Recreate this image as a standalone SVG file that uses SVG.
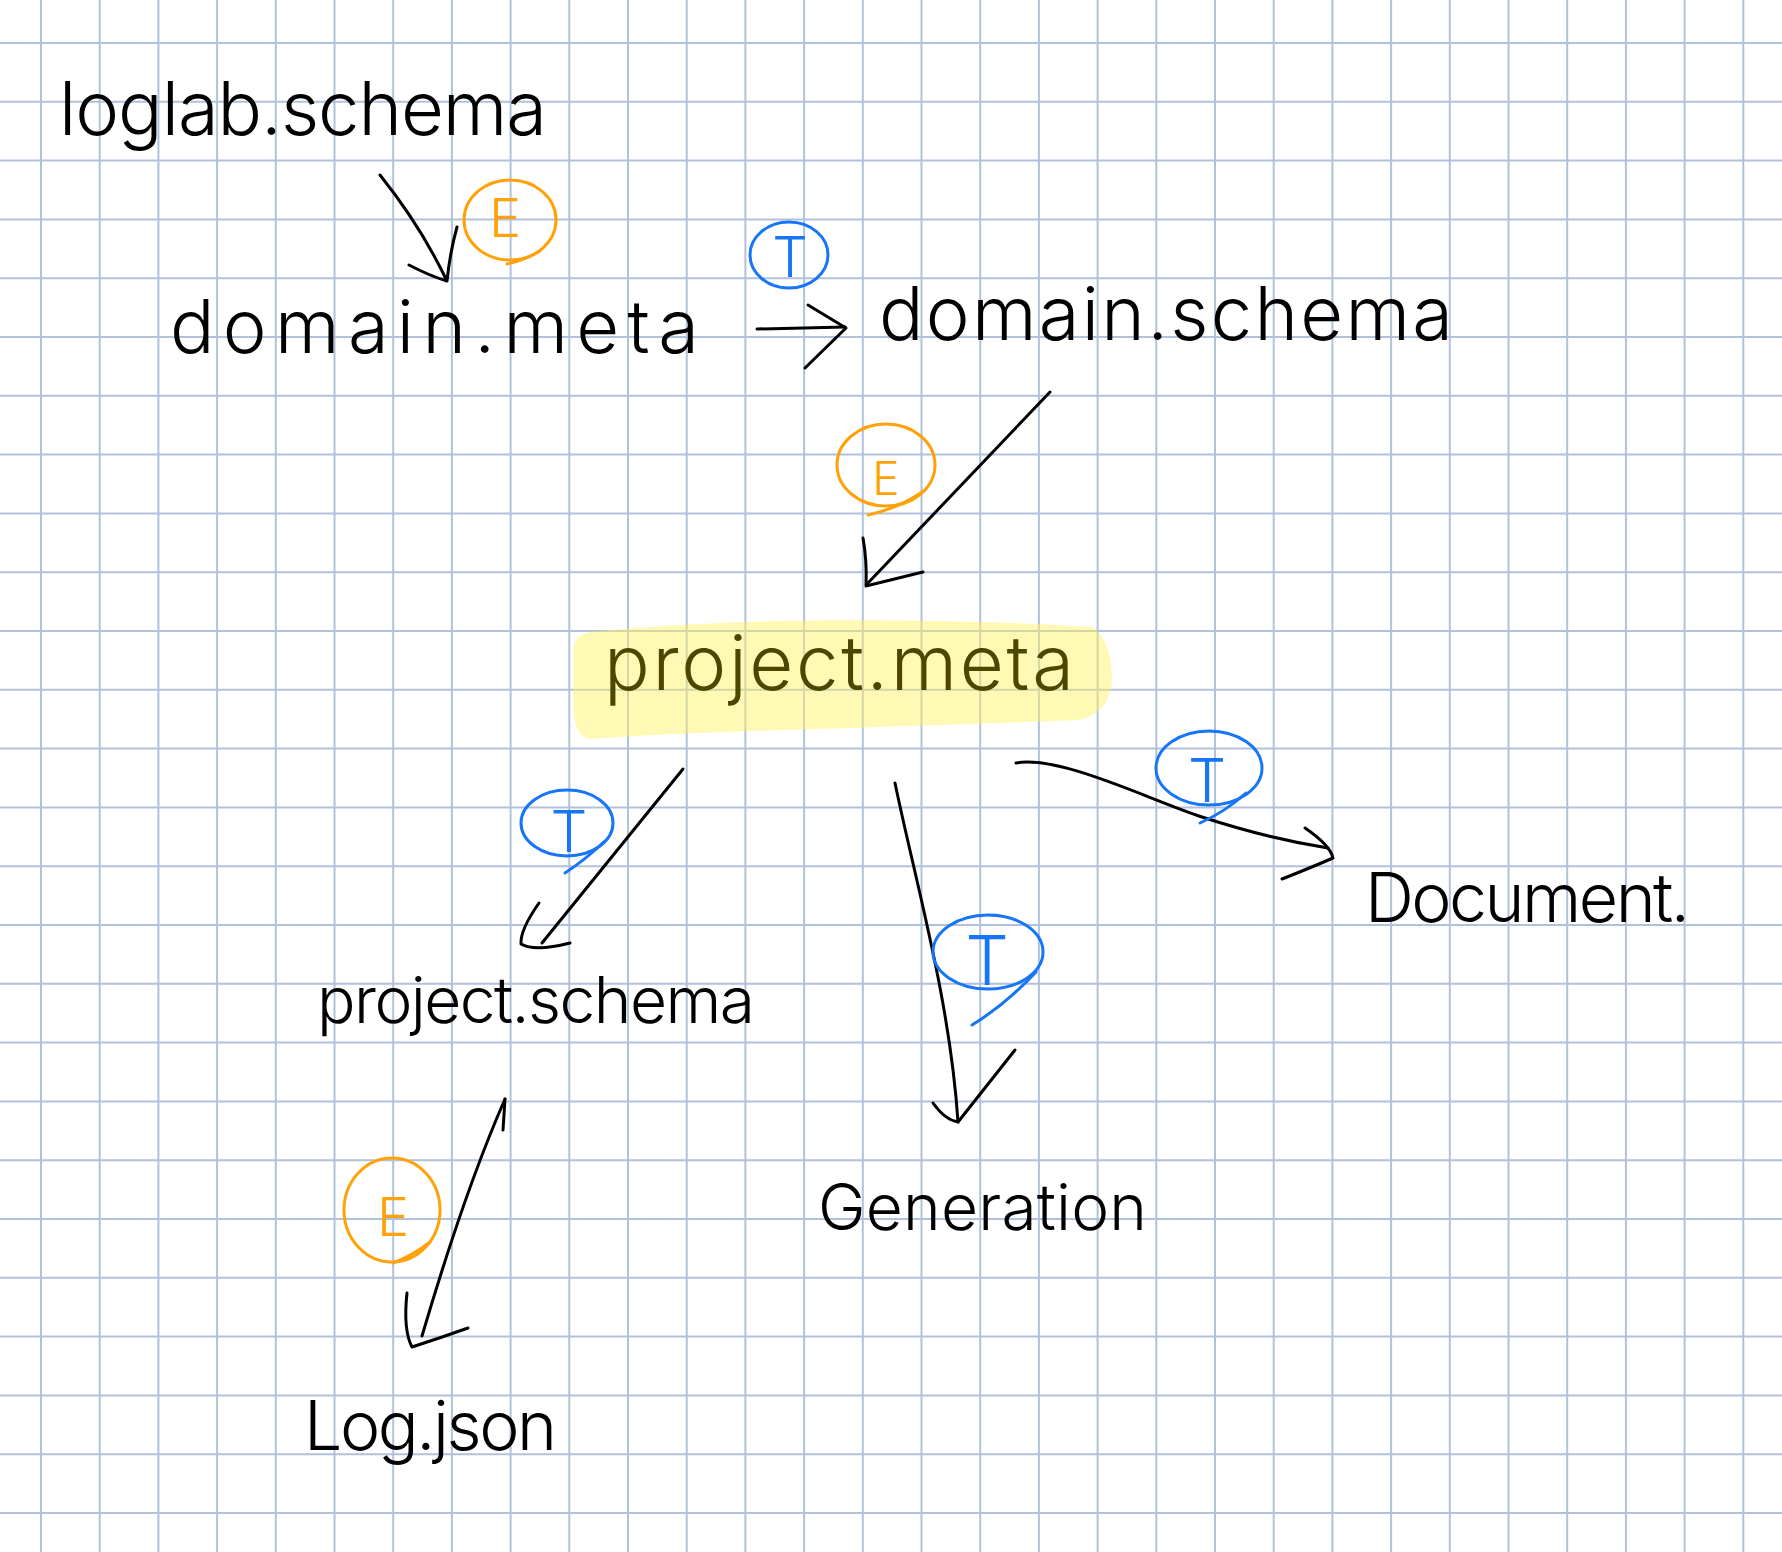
<svg xmlns="http://www.w3.org/2000/svg" width="1782" height="1552" viewBox="0 0 1782 1552">
<style>
.grid{stroke:#b1c1dc;stroke-width:2;fill:none}
.node{font-family:"Inter","Liberation Sans",sans-serif;font-weight:300;fill:#000}
.ink{fill:none;stroke:#000;stroke-width:3;stroke-linecap:round;stroke-linejoin:round}
.e{fill:none;stroke:#ffa20a;stroke-width:3;stroke-linecap:round}
.t{fill:none;stroke:#1775f7;stroke-width:3;stroke-linecap:round}
.et{font-family:"Inter","Liberation Sans",sans-serif;font-weight:300;fill:#ffa20a;text-anchor:middle}
.tt{font-family:"Inter","Liberation Sans",sans-serif;font-weight:300;fill:#1775f7;text-anchor:middle}
</style>
<rect width="1782" height="1552" fill="#ffffff"/>
<path class="grid" d="M41 0V1552M99.7 0V1552M158.4 0V1552M217.1 0V1552M275.8 0V1552M334.5 0V1552M393.2 0V1552M451.9 0V1552M510.6 0V1552M569.3 0V1552M628 0V1552M686.7 0V1552M745.4 0V1552M804.1 0V1552M862.8 0V1552M921.5 0V1552M980.2 0V1552M1038.9 0V1552M1097.6 0V1552M1156.3 0V1552M1215 0V1552M1273.7 0V1552M1332.4 0V1552M1391.1 0V1552M1449.8 0V1552M1508.5 0V1552M1567.2 0V1552M1625.9 0V1552M1684.6 0V1552M1743.3 0V1552M0 43H1782M0 101.8H1782M0 160.6H1782M0 219.4H1782M0 278.2H1782M0 337H1782M0 395.8H1782M0 454.6H1782M0 513.4H1782M0 572.2H1782M0 631H1782M0 689.8H1782M0 748.6H1782M0 807.4H1782M0 866.2H1782M0 925H1782M0 983.8H1782M0 1042.6H1782M0 1101.4H1782M0 1160.2H1782M0 1219H1782M0 1277.8H1782M0 1336.6H1782M0 1395.4H1782M0 1454.2H1782M0 1513H1782"/>

<g id="connectors">
  <g id="edge-loglab-domainmeta">
    <path class="ink" d="M380,175 Q420,225 446,279"/>
    <path class="ink" d="M457,227 Q450,252 447,281 Q430,276 409,265"/>
  </g>
  <g id="edge-domainmeta-domainschema">
    <path class="ink" d="M757,329 L845,327"/>
    <path class="ink" d="M808,305 L846,328 L805,368"/>
  </g>
  <g id="edge-domainschema-projectmeta">
    <path class="ink" d="M1050,392 L868,583"/>
    <path class="ink" d="M863,538 Q867,560 866,586 L923,572"/>
  </g>
  <g id="edge-projectmeta-projectschema">
    <path class="ink" d="M683,769 L542,943"/>
    <path class="ink" d="M539,903 Q520,930 521,944 Q535,952 570,943"/>
  </g>
  <g id="edge-projectmeta-generation">
    <path class="ink" d="M895,783 C915,880 950,1000 958,1122"/>
    <path class="ink" d="M1015,1050 L958,1122 Q945,1120 933,1103"/>
  </g>
  <g id="edge-projectmeta-document">
    <path class="ink" d="M1016,763 C1060,755 1150,800 1202,817 S1290,842 1328,848"/>
    <path class="ink" d="M1305,828 Q1330,845 1333,858 Q1310,868 1282,879"/>
  </g>
  <g id="edge-projectschema-logjson">
    <path class="ink" d="M505,1099 L503,1130"/>
    <path class="ink" d="M505,1099 Q465,1190 422,1336"/>
    <path class="ink" d="M407,1293 Q403,1330 412,1347 Q440,1338 468,1328"/>
  </g>
</g>

<g id="edge-labels">
  <g id="label-e1"><ellipse class="e" cx="510" cy="220" rx="46" ry="40"/><path class="e" d="M540,251 Q525,260 507,264"/><text class="et" x="505" y="237" font-size="54">E</text></g>
  <g id="label-t1"><ellipse class="t" cx="789" cy="255" rx="39" ry="33"/><text class="tt" x="790" y="277" font-size="56">T</text></g>
  <g id="label-e2"><ellipse class="e" cx="886" cy="465" rx="49" ry="41"/><path class="e" d="M925,490 Q900,508 868,515"/><text class="et" x="886" y="495" font-size="46">E</text></g>
  <g id="label-t2"><ellipse class="t" cx="567" cy="823" rx="46" ry="33"/><path class="t" d="M605,841 Q585,860 565,873"/><text class="tt" x="569" y="852" font-size="58">T</text></g>
  <g id="label-t3"><ellipse class="t" cx="988" cy="952" rx="55" ry="37"/><path class="t" d="M1036,972 Q1005,1005 972,1025"/><text class="tt" x="987" y="985" font-size="68">T</text></g>
  <g id="label-t4"><ellipse class="t" cx="1209" cy="768" rx="53" ry="37"/><path class="t" d="M1246,793 Q1225,812 1200,823"/><text class="tt" x="1207" y="802" font-size="60">T</text></g>
  <g id="label-e3"><ellipse class="e" cx="392" cy="1210" rx="48" ry="52"/><path class="e" d="M430,1242 Q412,1256 393,1263"/><text class="et" x="393" y="1236" font-size="54">E</text></g>
</g>

<g id="node-loglab-schema"><text class="node" x="59" y="135" font-size="74" textLength="488" lengthAdjust="spacing">loglab.schema</text></g>
<g id="node-domain-meta"><text class="node" x="170" y="353" font-size="74" textLength="529" lengthAdjust="spacing">domain.meta</text></g>
<g id="node-domain-schema"><text class="node" x="879" y="340" font-size="74" textLength="574" lengthAdjust="spacing">domain.schema</text></g>
<g id="node-project-meta">
  <path d="M590,632 Q700,621 850,620 Q1000,621 1092,627 Q1112,640 1112,680 Q1110,712 1080,720 Q900,727 750,731 Q640,735 590,739 Q573,737 573,700 L573,650 Q575,634 590,632 Z" fill="#fff25a" fill-opacity="0.45"/>
  <text class="node" x="604" y="690" font-size="76" textLength="470" lengthAdjust="spacing" style="fill:#4b4700">project.meta</text>
</g>
<g id="node-project-schema"><text class="node" x="317" y="1023" font-size="64" textLength="438" lengthAdjust="spacing">project.schema</text></g>
<g id="node-generation"><text class="node" x="818" y="1230" font-size="64" textLength="329" lengthAdjust="spacing">Generation</text></g>
<g id="node-document"><text class="node" x="1365" y="922" font-size="68" textLength="325" lengthAdjust="spacing">Document.</text></g>
<g id="node-log-json"><text class="node" x="304" y="1450" font-size="68" textLength="253" lengthAdjust="spacing">Log.json</text></g>
</svg>
